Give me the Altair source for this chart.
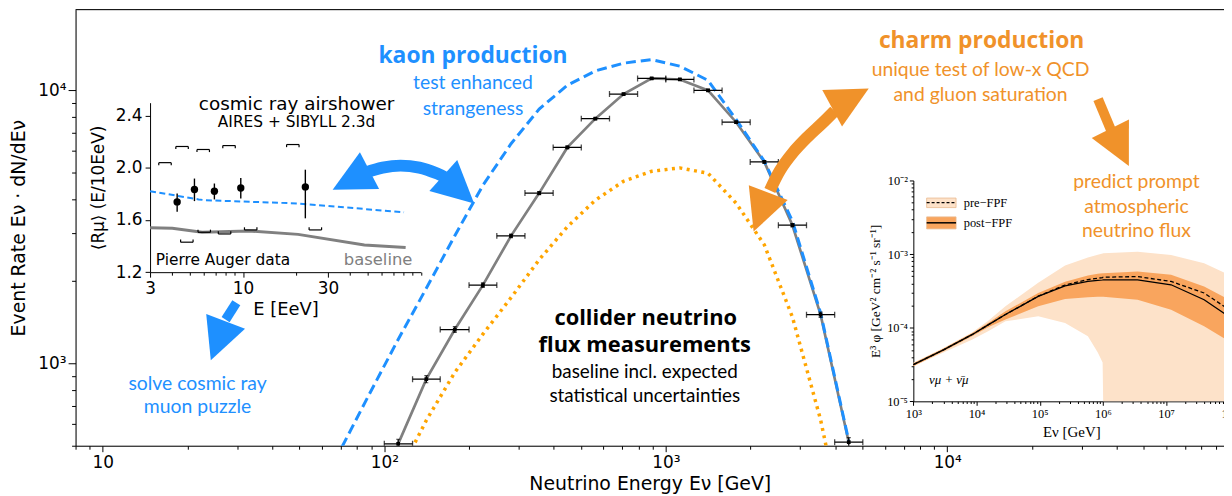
import altair as alt
import pandas as pd

# ---------------- main panel: event rate vs neutrino energy ----------------
bin_center = [112, 141, 178, 224, 282, 355, 447, 562, 708, 891, 1122, 1413, 1778, 2239, 2818, 3548, 4467]
bin_lo = [100, 126, 158, 200, 251, 316, 398, 501, 631, 794, 1000, 1259, 1585, 1995, 2512, 3162, 3981]
bin_hi = [126, 158, 200, 251, 316, 398, 501, 631, 794, 1000, 1259, 1585, 1995, 2512, 3162, 3981, 5012]
baseline_rate = [507, 875, 1330, 1934, 2931, 4204, 6180, 7881, 9694, 11060, 10965, 10000, 7645, 5470, 3206, 1507, 514]
baseline_err = [20, 26, 32, 38, 46, 55, 66, 75, 83, 88, 88, 84, 73, 62, 47, 33, 20]

kaon_E = [70.8, 89.1, 112, 141, 178, 224, 282, 355, 447, 562, 708, 891, 1122, 1413, 1778, 2239, 2818, 3548, 4467]
kaon_rate = [495, 782, 1223, 1883, 2934, 4490, 6375, 8543, 10437, 11784, 12582, 12970, 12262, 10884, 7824, 5500, 3320, 1530, 520]

charm_E = [112, 141, 178, 224, 282, 355, 447, 562, 708, 891, 1122, 1413, 1778, 2239, 2818, 3548, 4467]
charm_rate = [388, 618, 926, 1279, 1740, 2397, 3164, 3960, 4648, 5054, 5200, 4970, 3862, 2717, 1477, 621, 200]

# annotations (main panel coordinates)
ann_text = ["kaon production", "test enhanced", "strangeness", "solve cosmic ray", "muon puzzle",
            "charm production", "unique test of low-x QCD", "and gluon saturation",
            "predict prompt", "atmospheric", "neutrino flux",
            "collider neutrino", "flux measurements", "baseline incl. expected", "statistical uncertainties"]
ann_E = [206.6, 206.6, 206.6, 21.7, 21.7, 13240, 13130, 13130, 47000, 47000, 47000, 849, 842, 842, 842]
ann_R = [13330, 10630, 8550, 839, 692, 15120, 11860, 9614, 4598, 3728, 3050, 1462, 1163, 927, 758]
ann_style = ["blue_b", "blue", "blue", "blue", "blue", "orange_b", "orange", "orange",
             "orange", "orange", "orange", "black_b", "black_b", "black", "black"]

# arrows (shafts and heads, main panel coordinates)
shaft_id = ["kaon"] * 6 + ["muon"] * 2 + ["charm"] * 6 + ["prompt"] * 2
shaft_E = [85.9, 98.6, 114.2, 133.2, 154.2, 167.2, 29.8, 27.3,
           2344, 2543, 2827, 3167, 3606, 3976, 34330, 38270]
shaft_R = [5000, 5212, 5302, 5212, 4959, 4753, 1667, 1446,
           4298, 5084, 5910, 6704, 7603, 8407, 9296, 7108]
head_E = [76.2, 183.8, 25.7, 4529, 2178, 40950]
head_R = [4688, 4335, 1210, 9352, 3581, 6180]
head_angle = [242.5, 132.1, 200.9, 61.6, 200.6, 153.5]
head_color = ["blue", "blue", "blue", "orange", "orange", "orange"]

# ---------------- inset 1: cosmic ray muon puzzle ----------------
auger_E = [4.26, 5.33, 6.90, 9.71, 22.4]
auger_R = [1.739, 1.834, 1.821, 1.846, 1.854]
auger_lo = [1.663, 1.745, 1.758, 1.765, 1.613]
auger_hi = [1.803, 1.918, 1.880, 1.922, 1.986]
sys_up_E = [3.64, 4.54, 5.97, 8.34, 19.05]
sys_up_R = [2.040, 2.164, 2.141, 2.171, 2.179]
sys_dn_E = [4.83, 6.05, 7.87, 11.04, 25.5]
sys_dn_R = [1.430, 1.506, 1.493, 1.524, 1.524]
ins_kaon_E = [3, 5.63, 6.12, 20.4, 80.4]
ins_kaon_R = [1.821, 1.758, 1.752, 1.727, 1.659]
ins_base_E = [3, 4.0, 5.88, 10.7, 20.4, 48.1, 82.1]
ins_base_R = [1.541, 1.536, 1.506, 1.516, 1.49, 1.409, 1.39]

# ---------------- inset 2: prompt atmospheric neutrino flux ----------------
flux_E = [1e3, 3e3, 8.6e3, 1.55e4, 2.87e4, 9.47e4, 2.52e5, 5.79e5, 8.3e5, 9.9e5, 1.01e6, 3.54e6, 1.2e7, 4.0e7, 1e8]
pre_hi = [3.35e-5, 5.3e-5, 8.7e-5, 1.25e-4, 1.95e-4, 4.07e-4, 7.0e-4, 9.0e-4, 9.8e-4, 1.02e-3, 1.03e-3, 1.08e-3, 9.73e-4, 7.52e-4, 5.2e-4]
pre_lo = [3.0e-5, 4.6e-5, 6.9e-5, 9.0e-5, 1.22e-4, 1.43e-4, 1.16e-4, 7.67e-5, 4.62e-5, 3.36e-5, 1e-5, 1e-5, 1e-5, 1e-5, 1e-5]
post_hi = [3.3e-5, 5.2e-5, 8.5e-5, 1.17e-4, 1.67e-4, 2.96e-4, 4.2e-4, 5.1e-4, 5.4e-4, 5.5e-4, 5.5e-4, 5.79e-4, 5.23e-4, 3.63e-4, 2.4e-4]
post_lo = [3.0e-5, 4.8e-5, 7.7e-5, 1.02e-4, 1.29e-4, 1.95e-4, 2.45e-4, 2.6e-4, 2.63e-4, 2.63e-4, 2.63e-4, 2.4e-4, 1.76e-4, 1.05e-4, 6.5e-5]
post_mid = [3.15e-5, 5.0e-5, 8.1e-5, 1.1e-4, 1.51e-4, 2.66e-4, 3.7e-4, 4.25e-4, 4.4e-4, 4.45e-4, 4.47e-4, 4.47e-4, 3.83e-4, 2.4e-4, 1.4e-4]
pre_mid = [3.15e-5, 5.0e-5, 8.1e-5, 1.1e-4, 1.51e-4, 2.68e-4, 3.8e-4, 4.5e-4, 4.7e-4, 4.8e-4, 4.85e-4, 4.95e-4, 4.25e-4, 2.96e-4, 1.75e-4]
legend_label = ["pre−FPF", "post−FPF"]
legend_box_E = [1624, 4743]
legend_text_E = 6266
legend_top = [5.77e-3, 3.2e-3]
legend_bot = [4.28e-3, 2.2e-3]
legend_line = [5.0e-3, 2.66e-3]

# ---------------- styling ----------------
BLUE = "#1E90FF"
ORANGE_T = "#F0922A"
ORANGE_L = "#FFA500"
GRAY = "#808080"
PRE_FILL = "#FDE2C9"
POST_FILL = "#F9A55E"
SANS = "DejaVu Sans"
ANN = "Lato"
ANN_B = "Open Sans"
SERIF = "Liberation Serif"

W, H = 1156, 439


def lab_expr(vals, labs):
    parts = [f"datum.value == {v!r} ? '{l}'" for v, l in zip(vals, labs)]
    return " : ".join(parts) + " : ''"


def tick_cond(majors, big, small):
    return {"condition": {"test": f"indexof({list(majors)!r}, datum.value) >= 0", "value": big}, "value": small}


def minors(lo, hi, kmin, kmax):
    out = []
    for k in range(kmin, kmax + 1):
        for m in range(2, 10):
            v = m * 10.0 ** k
            if lo * 0.999 <= v <= hi * 1.001:
                out.append(float(f"{v:.6g}"))
    return out


# main axes
mx_major = [10, 100, 1000, 10000]
mx_labels = ["10", "10²", "10³", "10⁴"]
my_major = [1000, 10000]
my_labels = ["10³", "10⁴"]
mx_vals = mx_major + [8, 9] + minors(11, 96200, 1, 4)
my_vals = my_major + minors(499, 19770, 2, 4)

common_axis = dict(grid=False, domainColor="black", tickColor="black", labelColor="black",
                   titleColor="black", labelFlush=False, labelOverlap=False, titleFontWeight="normal")

main_x_axis = alt.Axis(orient="bottom", values=mx_vals, labelExpr=lab_expr(mx_major, mx_labels),
                       tickSize=tick_cond(mx_major, 6, 3.5), labelFont=SANS, labelFontSize=17,
                       labelPadding=3, title="Neutrino Energy  Eν [GeV]", titleFont=SANS,
                       titleFontSize=19, titlePadding=4, **common_axis)
main_y_axis = alt.Axis(orient="left", values=my_vals, labelExpr=lab_expr(my_major, my_labels),
                       tickSize=tick_cond(my_major, 7.5, 4), labelFont=SANS, labelFontSize=17,
                       labelPadding=2, title="Event Rate  Eν · dN/dEν", titleFont=SANS,
                       titleFontSize=19, titlePadding=9, **common_axis)

MXS = alt.Scale(type="log", domain=[8, 96200], nice=False)
MYS = alt.Scale(type="log", domain=[499, 19770], nice=False)


def MX(f="E"):
    return alt.X(f, type="quantitative", scale=MXS, axis=main_x_axis)


def MY(f="R"):
    return alt.Y(f, type="quantitative", scale=MYS, axis=main_y_axis)


base_df = pd.DataFrame({"E": bin_center, "lo": bin_lo, "hi": bin_hi, "R": baseline_rate,
                        "Rlo": [r - e for r, e in zip(baseline_rate, baseline_err)],
                        "Rhi": [r + e for r, e in zip(baseline_rate, baseline_err)]})
kaon_df = pd.DataFrame({"E": kaon_E, "R": kaon_rate})
charm_df = pd.DataFrame({"E": charm_E, "R": charm_rate})

gray_line = alt.Chart(base_df).mark_line(color=GRAY, strokeWidth=2.7, clip=True).encode(x=MX(), y=MY())
kaon_line = alt.Chart(kaon_df).mark_line(color=BLUE, strokeWidth=3, strokeDash=[10, 5], clip=True).encode(x=MX(), y=MY())
charm_line = alt.Chart(charm_df).mark_line(color=ORANGE_L, strokeWidth=3.5, strokeDash=[3, 4.5], clip=True).encode(x=MX(), y=MY())

xerr = alt.Chart(base_df).mark_rule(color="black", strokeWidth=1.3, clip=True).encode(x=MX("lo"), x2="hi", y=MY())
xcap_lo = alt.Chart(base_df).mark_tick(color="black", orient="vertical", size=6, thickness=1.3, clip=True).encode(x=MX("lo"), y=MY())
xcap_hi = alt.Chart(base_df).mark_tick(color="black", orient="vertical", size=6, thickness=1.3, clip=True).encode(x=MX("hi"), y=MY())
yerr = alt.Chart(base_df).mark_rule(color="black", strokeWidth=1.3, clip=True).encode(x=MX(), y=MY("Rlo"), y2="Rhi")
ycap_lo = alt.Chart(base_df).mark_tick(color="black", orient="horizontal", size=4, thickness=1.2, clip=True).encode(x=MX(), y=MY("Rlo"))
ycap_hi = alt.Chart(base_df).mark_tick(color="black", orient="horizontal", size=4, thickness=1.2, clip=True).encode(x=MX(), y=MY("Rhi"))
pts = alt.Chart(base_df).mark_point(shape="square", filled=True, color="black", size=14, opacity=1, clip=True).encode(x=MX(), y=MY())

ann_df = pd.DataFrame({"E": ann_E, "R": ann_R, "text": ann_text, "style": ann_style})
styles = {
    "blue_b": (BLUE, 23, "bold", ANN_B), "blue": (BLUE, 19.5, "normal", ANN),
    "orange_b": (ORANGE_T, 23, "bold", ANN_B), "orange": (ORANGE_T, 19.5, "normal", ANN),
    "black_b": ("black", 22, "bold", ANN_B), "black": ("black", 19, "normal", ANN),
}
ann_layers = []
for st, (col, fs, fw, fnt) in styles.items():
    ann_layers.append(
        alt.Chart(ann_df[ann_df["style"] == st]).mark_text(
            font=fnt, fontSize=fs, fontWeight=fw, color=col, align="center", baseline="middle"
        ).encode(x=MX(), y=MY(), text="text:N")
    )

color_map = {"kaon": BLUE, "muon": BLUE, "charm": ORANGE_T, "prompt": ORANGE_T, "blue": BLUE, "orange": ORANGE_T}
width_map = {"kaon": 12, "muon": 9.5, "charm": 12, "prompt": 10}
shaft_df = pd.DataFrame({"id": shaft_id, "E": shaft_E, "R": shaft_R,
                         "k": list(range(len(shaft_id)))})
shaft_df["col"] = shaft_df["id"].map(color_map)
shaft_df["w"] = shaft_df["id"].map(width_map)
shafts = alt.Chart(shaft_df).mark_line(interpolate="cardinal", strokeCap="butt").encode(
    x=MX(), y=MY(), detail="id:N", order="k:Q",
    color=alt.Color("col:N", scale=None), strokeWidth=alt.StrokeWidth("w:Q", scale=None))
head_df = pd.DataFrame({"E": head_E, "R": head_R, "angle": head_angle, "c": head_color})
head_df["col"] = head_df["c"].map(color_map)
heads = alt.Chart(head_df).mark_point(shape="M0,-1L1,1L-1,1Z", filled=True, size=1750, opacity=1, strokeWidth=0).encode(
    x=MX(), y=MY(), angle=alt.Angle("angle:Q", scale=None), color=alt.Color("col:N", scale=None))

frame_top = alt.Chart(pd.DataFrame({"a": [0]})).mark_rule(color="black", strokeWidth=1).encode(
    x=alt.value(0), x2=alt.value(W), y=alt.value(0))

main = alt.layer(gray_line, kaon_line, charm_line, xerr, xcap_lo, xcap_hi, yerr, ycap_lo, ycap_hi, pts,
                 *ann_layers, shafts, heads, frame_top)

# ---------------- inset 1 ----------------
i1x_major = [3, 10, 30]
i1x_vals = i1x_major + [4, 5, 6, 7, 8, 9, 20, 40, 50, 60, 70, 80, 90, 100]
i1_x_axis = alt.Axis(orient="bottom", offset=-174.7, values=i1x_vals,
                     labelExpr=lab_expr(i1x_major, ["3", "10", "30"]),
                     tickSize=tick_cond(i1x_major, 5, 3), labelFont=SANS, labelFontSize=17,
                     labelPadding=3, title="E [EeV]", titleFont=SANS, titleFontSize=18, titlePadding=5,
                     **common_axis)
i1_y_axis = alt.Axis(orient="left", offset=-75, values=[1.2, 1.6, 2.0, 2.4], format=".1f",
                     tickSize=5, labelFont=SANS, labelFontSize=17, labelPadding=3,
                     title="⟨Rμ⟩ (E/10EeV)", titleFont=SANS, titleFontSize=17, titlePadding=8,
                     **common_axis)
I1XS = alt.Scale(type="log", domain=[3, 100], range=[75, 347.6], nice=False)
I1YS = alt.Scale(domain=[1.2, 2.5], range=[264.3, 93.7], nice=False, zero=False)


def IX(f="E"):
    return alt.X(f, type="quantitative", scale=I1XS, axis=i1_x_axis)


def IY(f="R"):
    return alt.Y(f, type="quantitative", scale=I1YS, axis=i1_y_axis)


BR_HALF = 1.084   # half-width factor of systematic brackets (log axis)
BR_TICK = 0.02
up_df = pd.DataFrame({"E": sys_up_E, "R": sys_up_R})
up_df["l"] = up_df["E"] / BR_HALF
up_df["r"] = up_df["E"] * BR_HALF
up_df["t"] = up_df["R"] - BR_TICK
dn_df = pd.DataFrame({"E": sys_dn_E, "R": sys_dn_R})
dn_df["l"] = dn_df["E"] / BR_HALF
dn_df["r"] = dn_df["E"] * BR_HALF
dn_df["t"] = dn_df["R"] + BR_TICK

br_layers = []
for d in (up_df, dn_df):
    br_layers.append(alt.Chart(d).mark_rule(color="black", strokeWidth=1.2).encode(x=IX("l"), x2="r", y=IY()))
    br_layers.append(alt.Chart(d).mark_rule(color="black", strokeWidth=1.2).encode(x=IX("l"), y=IY(), y2="t"))
    br_layers.append(alt.Chart(d).mark_rule(color="black", strokeWidth=1.2).encode(x=IX("r"), y=IY(), y2="t"))

auger_df = pd.DataFrame({"E": auger_E, "R": auger_R, "lo": auger_lo, "hi": auger_hi})
i1_base = alt.Chart(pd.DataFrame({"E": ins_base_E, "R": ins_base_R})).mark_line(color=GRAY, strokeWidth=3).encode(x=IX(), y=IY())
i1_kaon = alt.Chart(pd.DataFrame({"E": ins_kaon_E, "R": ins_kaon_R})).mark_line(color=BLUE, strokeWidth=2, strokeDash=[6, 3.5]).encode(x=IX(), y=IY())
i1_err = alt.Chart(auger_df).mark_rule(color="black", strokeWidth=1.4).encode(x=IX(), y=IY("lo"), y2="hi")
i1_pts = alt.Chart(auger_df).mark_circle(color="black", size=55, opacity=1).encode(x=IX(), y=IY())

i1_text_df = pd.DataFrame({
    "E": [20.0, 20.0, 3.23, 89.6],
    "R": [2.491, 2.349, 1.290, 1.290],
    "text": ["cosmic ray airshower", "AIRES + SIBYLL 2.3d", "Pierre Auger data", "baseline"],
})
i1_t1 = alt.Chart(i1_text_df.iloc[[0]]).mark_text(font=SANS, fontSize=18.5, color="black", baseline="middle").encode(x=IX(), y=IY(), text="text:N")
i1_t2 = alt.Chart(i1_text_df.iloc[[1]]).mark_text(font=SANS, fontSize=15.5, color="black", baseline="middle").encode(x=IX(), y=IY(), text="text:N")
i1_t3 = alt.Chart(i1_text_df.iloc[[2]]).mark_text(font=SANS, fontSize=15.5, color="black", align="left", baseline="middle").encode(x=IX(), y=IY(), text="text:N")
i1_t4 = alt.Chart(i1_text_df.iloc[[3]]).mark_text(font=SANS, fontSize=16.5, color=GRAY, align="right", baseline="middle").encode(x=IX(), y=IY(), text="text:N")

inset1 = alt.layer(i1_base, i1_kaon, *br_layers, i1_err, i1_pts, i1_t1, i1_t2, i1_t3, i1_t4)

# ---------------- inset 2 ----------------
i2x_major = [1e3, 1e4, 1e5, 1e6, 1e7, 1e8]
i2x_labels = ["10³", "10⁴", "10⁵", "10⁶", "10⁷", "10⁸"]
i2y_major = [1e-5, 1e-4, 1e-3, 1e-2]
i2y_labels = ["10⁻⁵", "10⁻⁴", "10⁻³", "10⁻²"]
i2_x_axis = alt.Axis(orient="bottom", offset=-44.7, values=i2x_major + minors(1e3, 1e8, 3, 7),
                     labelExpr=lab_expr(i2x_major, i2x_labels), tickSize=tick_cond(i2x_major, 4, 2.2),
                     labelFont=SERIF, labelFontSize=12.5, labelPadding=2, title="Eν  [GeV]",
                     titleFont=SERIF, titleFontSize=15, titlePadding=5, **common_axis)
i2_y_axis = alt.Axis(orient="left", offset=-843.3, values=i2y_major + minors(1e-5, 1e-2, -5, -3),
                     labelExpr=lab_expr(i2y_major, i2y_labels), tickSize=tick_cond(i2y_major, 4, 2.2),
                     labelFont=SERIF, labelFontSize=12.5, labelPadding=2,
                     title="E³ φ [GeV² cm⁻² s⁻¹ sr⁻¹]", titleFont=SERIF, titleFontSize=13.5,
                     titlePadding=4, **common_axis)
I2XS = alt.Scale(type="log", domain=[1e3, 1e8], range=[843.3, 1161.3], nice=False)
I2YS = alt.Scale(type="log", domain=[1e-5, 1e-2], range=[394.3, 172], nice=False)


def JX(f="E"):
    return alt.X(f, type="quantitative", scale=I2XS, axis=i2_x_axis)


def JY(f="F"):
    return alt.Y(f, type="quantitative", scale=I2YS, axis=i2_y_axis)


flux_df = pd.DataFrame({"E": flux_E, "pre_hi": pre_hi, "pre_lo": pre_lo, "post_hi": post_hi,
                        "post_lo": post_lo, "post": post_mid, "pre": pre_mid})
pre_band = alt.Chart(flux_df).mark_area(color=PRE_FILL, opacity=1).encode(x=JX(), y=JY("pre_hi"), y2="pre_lo")
post_band = alt.Chart(flux_df).mark_area(color=POST_FILL, opacity=1).encode(x=JX(), y=JY("post_hi"), y2="post_lo")
pre_curve = alt.Chart(flux_df).mark_line(color="black", strokeWidth=1.3, strokeDash=[4, 2.5]).encode(x=JX(), y=JY("pre"))
post_curve = alt.Chart(flux_df).mark_line(color="black", strokeWidth=1.3).encode(x=JX(), y=JY("post"))

leg_df = pd.DataFrame({"lab": legend_label, "l": [legend_box_E[0]] * 2, "r": [legend_box_E[1]] * 2,
                       "top": legend_top, "bot": legend_bot, "line": legend_line,
                       "tx": [legend_text_E] * 2, "fill": [PRE_FILL, POST_FILL]})
leg_box = alt.Chart(leg_df).mark_rect(stroke="#E8B98F", strokeWidth=0.8).encode(
    x=JX("l"), x2="r", y=JY("top"), y2="bot", fill=alt.Fill("fill:N", scale=None))
leg_pre_line = alt.Chart(leg_df.iloc[[0]]).mark_rule(color="black", strokeWidth=1.3, strokeDash=[3, 2]).encode(x=JX("l"), x2="r", y=JY("line"))
leg_post_line = alt.Chart(leg_df.iloc[[1]]).mark_rule(color="black", strokeWidth=1.5).encode(x=JX("l"), x2="r", y=JY("line"))
leg_text = alt.Chart(leg_df).mark_text(font=SERIF, fontSize=12.5, color="black", align="left", baseline="middle").encode(
    x=JX("tx"), y=JY("line"), text="lab:N")
nu_text = alt.Chart(pd.DataFrame({"E": [1766], "F": [1.94e-5], "t": ["νμ + ν̄μ"]})).mark_text(
    font=SERIF, fontSize=13, fontStyle="italic", color="black", align="left", baseline="middle").encode(
    x=JX(), y=JY(), text="t:N")

inset2 = alt.layer(pre_band, post_band, pre_curve, post_curve, leg_box, leg_pre_line, leg_post_line, leg_text, nu_text)

chart = alt.layer(main, inset1, inset2).resolve_scale(x="independent", y="independent").properties(
    width=W, height=H, autosize=alt.AutoSizeParams(type="none"),
    padding={"left": 68, "top": 0, "right": 0, "bottom": 49},
).configure_view(stroke=None).configure(background="white")

chart.save("out.html", embed_options={"renderer": "svg", "actions": False})
